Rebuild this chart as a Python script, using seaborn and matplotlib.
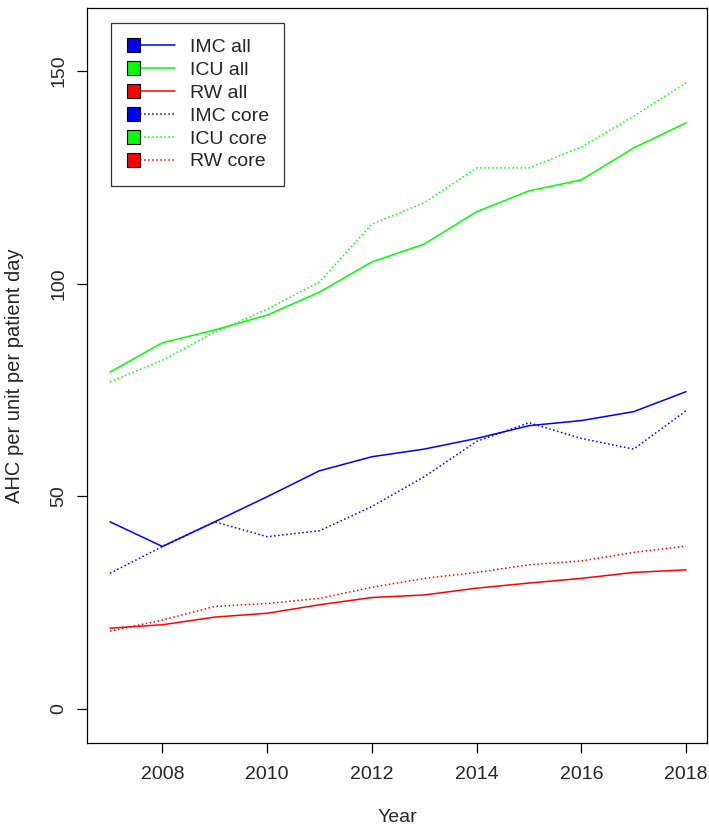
import pandas as pd
import matplotlib
matplotlib.use("Agg")
import matplotlib.pyplot as plt
import seaborn as sns
from matplotlib.patches import Rectangle
from matplotlib.lines import Line2D
from matplotlib.legend_handler import HandlerBase

# --- data ---
years = list(range(2007, 2019))
imc_all = [44.0, 38.2, 44.0, 49.9, 56.0, 59.3, 61.1, 63.6, 66.6, 67.8, 69.9, 74.6]
icu_all = [79.2, 86.1, 89.1, 92.6, 98.0, 105.1, 109.3, 116.9, 121.8, 124.4, 131.9, 137.8]
rw_all = [19.0, 19.8, 21.6, 22.5, 24.5, 26.2, 26.8, 28.4, 29.6, 30.7, 32.1, 32.7]
imc_core = [31.9, 38.2, 44.0, 40.5, 41.9, 47.6, 54.6, 62.9, 67.3, 63.6, 61.1, 70.1]
icu_core = [76.9, 82.0, 88.6, 94.0, 100.4, 114.0, 119.0, 127.2, 127.2, 132.1, 139.4, 147.2]
rw_core = [18.3, 20.9, 24.1, 24.8, 26.0, 28.6, 30.7, 32.1, 33.9, 34.8, 36.8, 38.3]

series_names = ["IMC all", "ICU all", "RW all", "IMC core", "ICU core", "RW core"]
series_vals = [imc_all, icu_all, rw_all, imc_core, icu_core, rw_core]
series_cols = ["#0000ff", "#00ff00", "#ff0000", "#0000ff", "#00ff00", "#ff0000"]
series_ls = ["-", "-", "-", ":", ":", ":"]

sns.set_style("white")
plt.rcParams["font.family"] = ["Liberation Sans", "DejaVu Sans"]

fig = plt.figure(figsize=(7.09, 8.25), dpi=100)
ax = fig.add_axes([0.1227, 0.0994, 0.8745, 0.8909])

df = pd.DataFrame({"Year": years})
for name, vals, col, ls in zip(series_names, series_vals, series_cols, series_ls):
    df[name] = vals
    sns.lineplot(data=df, x="Year", y=name, ax=ax, color=col, linewidth=1.1,
                 linestyle=ls)

ax.set_xlim(2006.56, 2018.4)
ax.set_ylim(-8.0, 164.8)
ax.set_xticks([2008, 2010, 2012, 2014, 2016, 2018])
ax.set_yticks([0, 50, 100, 150])
ax.tick_params(axis="both", direction="out", length=7, width=0.9, labelsize=14,
               left=True, bottom=True, color="black")
ax.tick_params(axis="x", pad=9.5)
ax.tick_params(axis="y", pad=7)
for lab in ax.get_yticklabels():
    lab.set_rotation(90)
    lab.set_va("center")
for sp in ax.spines.values():
    sp.set_visible(True)
    sp.set_color("black")
    sp.set_linewidth(0.9)
ax.set_xlabel("Year", fontsize=14, labelpad=19)
ax.set_ylabel("AHC per unit per patient day", fontsize=14.5, labelpad=19)


class BoxLineHandler(HandlerBase):
    """R-style legend key: filled square followed by a line segment."""
    def create_artists(self, legend, orig_handle, xdescent, ydescent,
                       width, height, fontsize, trans):
        col, ls = orig_handle
        sq = 10
        y0 = -ydescent + (height - sq) / 2
        rect = Rectangle((-xdescent, y0), sq, sq, facecolor=col,
                         edgecolor="black", linewidth=0.8, transform=trans)
        line = Line2D([-xdescent + sq, -xdescent + width],
                      [-ydescent + height / 2] * 2, color=col,
                      linestyle=ls, linewidth=1.1, transform=trans)
        return [line, rect]


handles = list(zip(series_cols, series_ls))
leg = ax.legend(handles, series_names,
                handler_map={tuple: BoxLineHandler()},
                loc="upper left", bbox_to_anchor=(24 / 620, 1 - 15 / 735),
                borderaxespad=0, fontsize=14, frameon=True, fancybox=False,
                handlelength=2.5, handletextpad=0.75, labelspacing=0.27,
                borderpad=0.8)
leg.get_frame().set_edgecolor("black")
leg.get_frame().set_linewidth(0.9)

fig.savefig("out.png", dpi=100)
